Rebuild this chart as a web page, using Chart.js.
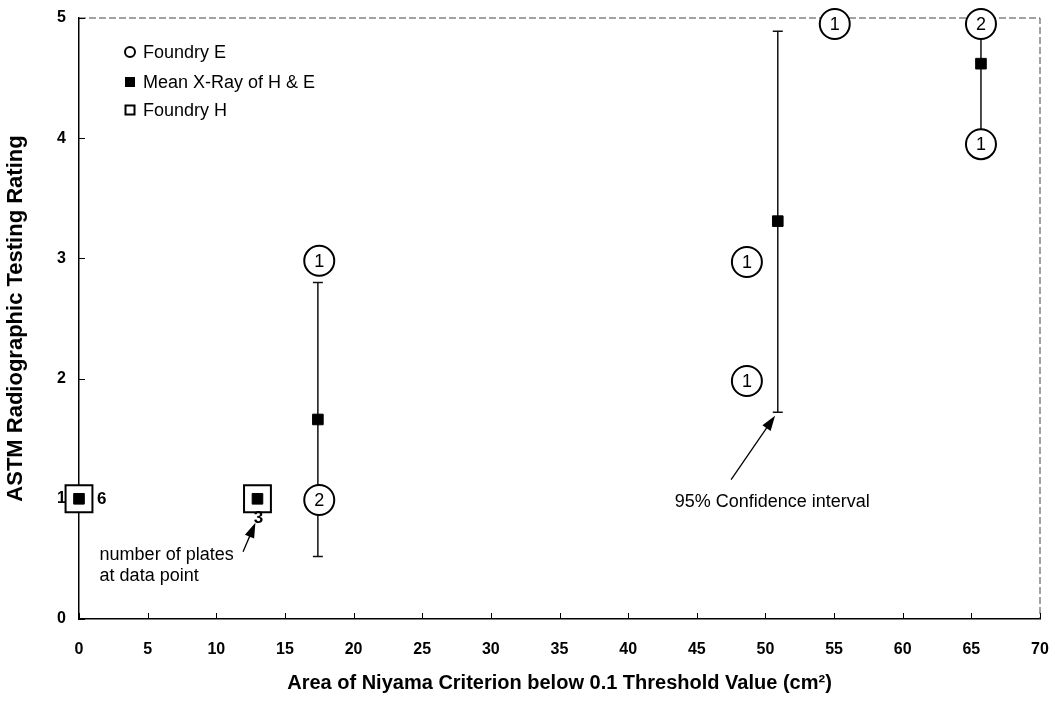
<!DOCTYPE html>
<html>
<head>
<meta charset="utf-8">
<script src="https://cdn.jsdelivr.net/npm/chart.js@4"></script>
<style>
  html, body { margin: 0; padding: 0; background: #fff; }
  #wrap { width: 1052px; height: 722px; }
</style>
</head>
<body>
<div id="wrap"><canvas id="chart"></canvas></div>
<script>
// mean X-ray rating of H & E with 95% confidence interval
const meanX = [0, 13, 17.4, 50.9, 65.7];
const meanY = [1, 1, 1.66, 3.31, 4.62];
const ciLow = [null, null, 0.52, 1.72, 3.95];
const ciHigh = [null, null, 2.8, 4.89, 4.95];

// foundry H (open squares) with number of plates
const foundryHX = [0, 13];
const foundryHY = [1, 1];
const foundryHN = [6, 3];

// foundry E (circles) with number of plates inside
const foundryEX = [17.5, 17.5, 48.65, 48.65, 55.05, 65.7, 65.7];
const foundryEY = [2.98, 0.99, 2.97, 1.98, 4.95, 4.95, 3.95];
const foundryEN = [1, 2, 1, 1, 1, 2, 1];

const xTicks = [0, 5, 10, 15, 20, 25, 30, 35, 40, 45, 50, 55, 60, 65, 70];
const yTicks = [0, 1, 2, 3, 4, 5];

const FONT = '"Liberation Sans", Arial, Helvetica, sans-serif';
const toPts = (xs, ys) => xs.map((v, i) => ({x: v, y: ys[i]}));

function arrow(ctx, x1, y1, x2, y2) {
  const ang = Math.atan2(y2 - y1, x2 - x1);
  const hl = 15, hw = 5;
  ctx.beginPath();
  ctx.moveTo(x1, y1);
  ctx.lineTo(x2 - Math.cos(ang) * hl * 0.8, y2 - Math.sin(ang) * hl * 0.8);
  ctx.stroke();
  ctx.beginPath();
  ctx.moveTo(x2, y2);
  ctx.lineTo(x2 - Math.cos(ang) * hl - Math.sin(ang) * hw, y2 - Math.sin(ang) * hl + Math.cos(ang) * hw);
  ctx.lineTo(x2 - Math.cos(ang) * hl + Math.sin(ang) * hw, y2 - Math.sin(ang) * hl - Math.cos(ang) * hw);
  ctx.closePath();
  ctx.fill();
}

const overlay = {
  id: 'overlay',
  beforeDatasetsDraw(chart) {
    const {ctx, chartArea: a, scales: {x, y}} = chart;
    ctx.save();
    // dashed top / right frame
    ctx.strokeStyle = '#444';
    ctx.lineWidth = 1;
    ctx.setLineDash([7, 3]);
    ctx.beginPath();
    ctx.moveTo(a.left, a.top);
    ctx.lineTo(a.right, a.top);
    ctx.lineTo(a.right, a.bottom);
    ctx.stroke();
    ctx.setLineDash([]);

    // inward tick marks
    ctx.strokeStyle = '#000';
    ctx.lineWidth = 1;
    xTicks.forEach(t => {
      const px = Math.round(x.getPixelForValue(t)) + 0.5;
      ctx.beginPath(); ctx.moveTo(px, a.bottom); ctx.lineTo(px, a.bottom - 6); ctx.stroke();
    });
    yTicks.forEach(t => {
      const py = Math.round(y.getPixelForValue(t)) + 0.5;
      ctx.beginPath(); ctx.moveTo(a.left, py); ctx.lineTo(a.left + 6, py); ctx.stroke();
    });

    // error bars
    ctx.strokeStyle = '#111';
    ctx.lineWidth = 1.5;
    meanX.forEach((mx, i) => {
      if (ciLow[i] == null) return;
      const px = x.getPixelForValue(mx);
      const lo = y.getPixelForValue(ciLow[i]);
      const hi = y.getPixelForValue(ciHigh[i]);
      ctx.beginPath();
      ctx.moveTo(px, lo); ctx.lineTo(px, hi);
      ctx.moveTo(px - 5, lo); ctx.lineTo(px + 5, lo);
      ctx.moveTo(px - 5, hi); ctx.lineTo(px + 5, hi);
      ctx.stroke();
    });
    ctx.restore();
  },
  afterDatasetsDraw(chart) {
    const {ctx, scales: {x, y}} = chart;
    ctx.save();
    ctx.fillStyle = '#000';
    ctx.strokeStyle = '#000';

    // numbers inside circles
    ctx.font = '18px ' + FONT;
    ctx.textAlign = 'center';
    ctx.textBaseline = 'middle';
    foundryEX.forEach((v, i) => {
      ctx.fillText(String(foundryEN[i]), x.getPixelForValue(v), y.getPixelForValue(foundryEY[i]) + 1);
    });

    // plate counts next to squares
    ctx.font = 'bold 17px ' + FONT;
    ctx.textAlign = 'left';
    ctx.fillText(String(foundryHN[0]), x.getPixelForValue(foundryHX[0]) + 18, y.getPixelForValue(foundryHY[0]) + 1);
    ctx.textAlign = 'center';
    ctx.fillText(String(foundryHN[1]), x.getPixelForValue(foundryHX[1]) + 1, y.getPixelForValue(foundryHY[1]) + 20);

    // annotations
    ctx.font = '18px ' + FONT;
    ctx.textAlign = 'left';
    ctx.fillText('number of plates', x.getPixelForValue(1.5), y.getPixelForValue(0.53));
    ctx.fillText('at data point', x.getPixelForValue(1.5), y.getPixelForValue(0.36));
    ctx.textAlign = 'center';
    ctx.fillText('95% Confidence interval', x.getPixelForValue(50.5), y.getPixelForValue(0.97));
    ctx.lineWidth = 1.3;
    arrow(ctx, x.getPixelForValue(11.95), y.getPixelForValue(0.56), x.getPixelForValue(12.85), y.getPixelForValue(0.8));
    arrow(ctx, x.getPixelForValue(47.5), y.getPixelForValue(1.16), x.getPixelForValue(50.7), y.getPixelForValue(1.69));

    // legend
    const lx = 130;
    const rows = [52, 82, 110];
    ctx.lineWidth = 2;
    ctx.beginPath(); ctx.arc(lx, rows[0], 5, 0, Math.PI * 2); ctx.stroke();
    ctx.fillRect(lx - 5, rows[1] - 5, 10, 10);
    ctx.strokeRect(lx - 4.5, rows[2] - 4.5, 9, 9);
    ctx.textAlign = 'left';
    ctx.font = '18px ' + FONT;
    ctx.fillText('Foundry E', lx + 13, rows[0] + 1);
    ctx.fillText('Mean X-Ray of H & E', lx + 13, rows[1] + 1);
    ctx.fillText('Foundry H', lx + 13, rows[2] + 1);
    ctx.restore();
  }
};

new Chart(document.getElementById('chart'), {
  type: 'scatter',
  data: {
    datasets: [
      {
        label: 'Mean X-Ray of H & E',
        data: toPts(meanX, meanY),
        pointStyle: 'rect',
        pointRadius: 7.5,
        backgroundColor: '#000',
        borderColor: '#000',
        borderWidth: 1,
        clip: false,
        order: 0
      },
      {
        label: 'Foundry E',
        data: toPts(foundryEX, foundryEY),
        pointStyle: 'circle',
        pointRadius: 15,
        backgroundColor: '#fff',
        borderColor: '#000',
        borderWidth: 2,
        clip: false,
        order: 1
      },
      {
        label: 'Foundry H',
        data: toPts(foundryHX, foundryHY),
        pointStyle: 'rect',
        pointRadius: 19,
        backgroundColor: '#fff',
        borderColor: '#000',
        borderWidth: 2,
        clip: false,
        order: 2
      }
    ]
  },
  options: {
    responsive: true,
    maintainAspectRatio: false,
    animation: false,
    events: [],
    layout: { autoPadding: false, padding: { left: 0, right: 12, top: 18, bottom: 0 } },
    plugins: {
      legend: { display: false },
      tooltip: { enabled: false }
    },
    scales: {
      x: {
        type: 'linear',
        min: 0,
        max: 70,
        afterBuildTicks: s => { s.ticks = xTicks.map(v => ({value: v})); },
        afterFit: s => { s.height = 103; s.paddingLeft = 0; s.paddingRight = 0; },
        grid: { display: false, drawTicks: false },
        border: { display: true, color: '#000', width: 1.5 },
        ticks: {
          padding: 21,
          color: '#000',
          maxRotation: 0,
          font: { family: FONT, size: 16, weight: 'bold' }
        },
        title: {
          display: true,
          text: 'Area of Niyama Criterion below 0.1 Threshold Value (cm²)',
          color: '#000',
          font: { family: FONT, size: 20, weight: 'bold' },
          padding: { top: 0, bottom: 27 }
        }
      },
      y: {
        type: 'linear',
        min: 0,
        max: 5,
        afterBuildTicks: s => { s.ticks = yTicks.map(v => ({value: v})); },
        afterFit: s => { s.width = 79; s.paddingTop = 0; s.paddingBottom = 0; },
        grid: { display: false, drawTicks: false },
        border: { display: true, color: '#000', width: 1.5 },
        ticks: {
          padding: 13,
          color: '#000',
          font: { family: FONT, size: 16, weight: 'bold' }
        },
        title: {
          display: true,
          text: 'ASTM Radiographic Testing Rating',
          color: '#000',
          font: { family: FONT, size: 22, weight: 'bold' },
          padding: { top: 3, bottom: 0 }
        }
      }
    }
  },
  plugins: [overlay]
});
</script>
</body>
</html>
